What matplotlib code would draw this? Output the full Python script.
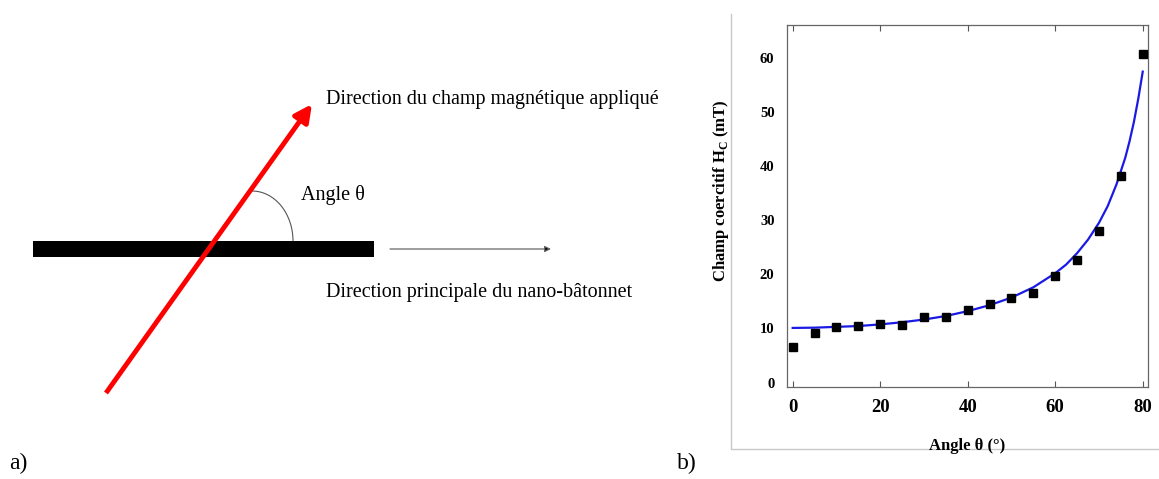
"""
Schéma de l'angle θ (a) et champ coercitif en fonction de l'angle (b).
Sortie : out.png
"""

import matplotlib.pyplot as plt
from matplotlib.patches import Rectangle, Arc

# ── données ────────────────────────────────────────────────────────────
ANGLES = [0, 5, 10, 15, 20, 25, 30, 35, 40, 45, 50, 55, 60, 65, 70, 75, 80]
HC = [6.6, 9.2, 10.2, 10.5, 10.8, 10.6, 12.2, 12.2, 13.5, 14.6, 15.6,
      16.6, 19.6, 22.6, 28.0, 38.2, 60.6]

FIT_ANGLES = [0, 5, 10, 15, 20, 25, 30, 35, 40, 45, 50, 55, 60, 62.5, 65,
              67.5, 70, 72, 74, 76, 77, 78, 79, 80]
FIT_HC = [10.1, 10.15, 10.3, 10.45, 10.75, 11.15, 11.65, 12.3, 13.2, 14.3,
          15.7, 17.6, 20.2, 21.8, 23.9, 26.4, 29.5, 32.6, 36.6, 41.5, 44.6,
          48.2, 52.5, 57.4]

XTICKS = [0, 20, 40, 60, 80]
YTICKS = [0, 10, 20, 30, 40, 50, 60]

W, H = 1159, 479
SERIF = "Liberation Serif"

fig = plt.figure(figsize=(W / 100, H / 100), dpi=100)

# ── panneau a) : schéma, en coordonnées pixel ──────────────────────────
ax0 = fig.add_axes([0, 0, 1, 1])
ax0.set_xlim(0, W)
ax0.set_ylim(H, 0)
ax0.set_axis_off()

# nano-bâtonnet
ax0.add_patch(Rectangle((33, 240.5), 341, 16, facecolor="black",
                        edgecolor="none", zorder=2))
# flèche du champ appliqué
ax0.annotate("", xy=(312, 104), xytext=(106, 393),
             arrowprops=dict(arrowstyle="-|>", color="#ff0000", lw=3.5,
                             mutation_scale=26, shrinkA=0, shrinkB=0,
                             capstyle="butt"),
             zorder=3)
# flèche fine (direction principale)
ax0.annotate("", xy=(551, 249), xytext=(390, 249),
             arrowprops=dict(arrowstyle="-|>", color="#666666", lw=0.9,
                             mutation_scale=9, shrinkA=0, shrinkB=0,
                             fc="black"))
# arc de l'angle
ax0.add_patch(Arc((252, 241), 82, 100, theta1=270, theta2=360,
                  color="#555555", lw=0.8))

ax0.text(326, 99, "Direction du champ magnétique appliqué", family=SERIF,
         fontsize=14.5, ha="left", va="center")
ax0.text(301, 195, "Angle θ", family=SERIF, fontsize=14.5,
         ha="left", va="center")
ax0.text(326, 292, "Direction principale du nano-bâtonnet", family=SERIF,
         fontsize=14.5, ha="left", va="center")
ax0.text(9, 463, "a)", family=SERIF, fontsize=17, ha="left", va="center")
ax0.text(677, 463, "b)", family=SERIF, fontsize=17, ha="left", va="center")

# cadre gris clair de l'image b)
ax0.plot([731, 731, W], [14, 449, 449], color="#c8c8c8", lw=1.0)

# ── panneau b) : Hc en fonction de θ ───────────────────────────────────
ax = fig.add_axes([787 / W, (H - 387) / H, (1148 - 787) / W, (387 - 25) / H])
ax.plot(FIT_ANGLES, FIT_HC, color="#1a1ae6", lw=1.6, zorder=2)
ax.plot(ANGLES, HC, "s", color="black", markersize=5.5, zorder=3)

ax.set_xlim(-1.3, 81.2)
ax.set_ylim(-0.8, 66)
ax.set_xticks(XTICKS)
ax.set_yticks(YTICKS)
ax.tick_params(axis="x", direction="in", top=True, length=4, width=0.8,
               color="#555555", pad=9)
ax.tick_params(axis="y", length=0, pad=9)
for lbl in ax.get_xticklabels():
    lbl.set_fontfamily(SERIF)
    lbl.set_fontweight("bold")
    lbl.set_fontsize(13.5)
for lbl in ax.get_yticklabels():
    lbl.set_fontfamily(SERIF)
    lbl.set_fontweight("bold")
    lbl.set_fontsize(10.5)
for sp in ax.spines.values():
    sp.set_color("#666666")
    sp.set_linewidth(0.9)

ax.set_ylabel(r"Champ coercitif H$_\mathregular{C}$ (mT)", family=SERIF,
              fontweight="bold", fontsize=12)
ax.yaxis.set_label_coords(-0.155, 0.541)
ax0.text(967, 446, "Angle θ (°)", family=SERIF, fontweight="bold",
         fontsize=12, ha="center", va="center")

fig.savefig("out.png", dpi=100)
